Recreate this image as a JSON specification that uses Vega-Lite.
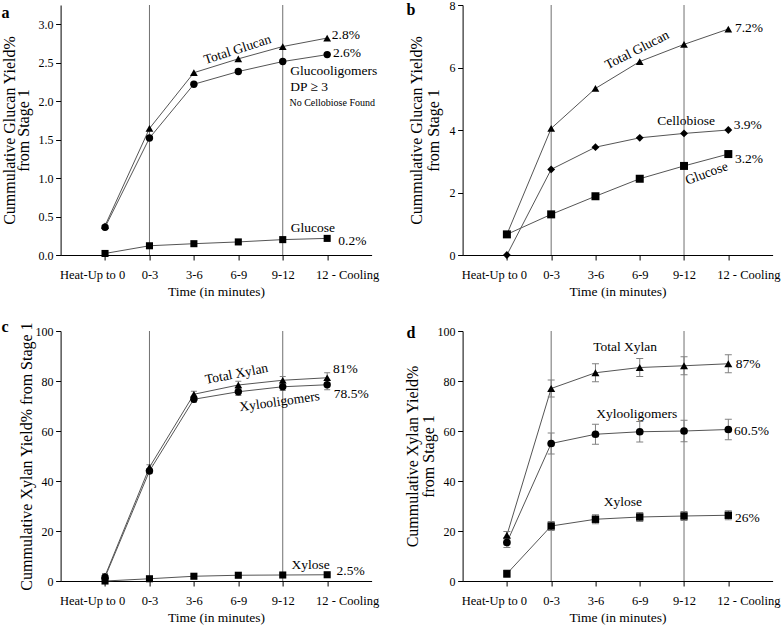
{
  "$schema": "https://vega.github.io/schema/vega-lite/v6.json",
  "autosize": {"type": "none"},
  "padding": {"left": 60.6, "top": 5, "right": 723.4, "bottom": 620},
  "bounds": "flush",
  "columns": 2,
  "spacing": {"row": 76, "column": 91},
  "datasets": {
    "vl": [{"t": 1}, {"t": 4}],
    "a": [
      {"t": 0, "s": "Total Glucan", "v": 0.38}, {"t": 1, "s": "Total Glucan", "v": 1.645}, {"t": 2, "s": "Total Glucan", "v": 2.37}, {"t": 3, "s": "Total Glucan", "v": 2.55}, {"t": 4, "s": "Total Glucan", "v": 2.71}, {"t": 5, "s": "Total Glucan", "v": 2.82},
      {"t": 0, "s": "Glucooligomers", "v": 0.36}, {"t": 1, "s": "Glucooligomers", "v": 1.52}, {"t": 2, "s": "Glucooligomers", "v": 2.22}, {"t": 3, "s": "Glucooligomers", "v": 2.385}, {"t": 4, "s": "Glucooligomers", "v": 2.515}, {"t": 5, "s": "Glucooligomers", "v": 2.605},
      {"t": 0, "s": "Glucose", "v": 0.02}, {"t": 1, "s": "Glucose", "v": 0.12}, {"t": 2, "s": "Glucose", "v": 0.147}, {"t": 3, "s": "Glucose", "v": 0.17}, {"t": 4, "s": "Glucose", "v": 0.2}, {"t": 5, "s": "Glucose", "v": 0.216}
    ],
    "b": [
      {"t": 0, "s": "Total Glucan", "v": 0.66}, {"t": 1, "s": "Total Glucan", "v": 4.05}, {"t": 2, "s": "Total Glucan", "v": 5.33}, {"t": 3, "s": "Total Glucan", "v": 6.19}, {"t": 4, "s": "Total Glucan", "v": 6.74}, {"t": 5, "s": "Total Glucan", "v": 7.23},
      {"t": 0, "s": "Cellobiose", "v": 0.0}, {"t": 1, "s": "Cellobiose", "v": 2.74}, {"t": 2, "s": "Cellobiose", "v": 3.45}, {"t": 3, "s": "Cellobiose", "v": 3.75}, {"t": 4, "s": "Cellobiose", "v": 3.89}, {"t": 5, "s": "Cellobiose", "v": 4.0},
      {"t": 0, "s": "Glucose", "v": 0.66}, {"t": 1, "s": "Glucose", "v": 1.3}, {"t": 2, "s": "Glucose", "v": 1.88}, {"t": 3, "s": "Glucose", "v": 2.44}, {"t": 4, "s": "Glucose", "v": 2.85}, {"t": 5, "s": "Glucose", "v": 3.23}
    ],
    "c": [
      {"t": 0, "s": "Total Xylan", "v": 2.0, "lo": 1.0, "hi": 3.0}, {"t": 1, "s": "Total Xylan", "v": 45.5, "lo": 44.5, "hi": 46.5}, {"t": 2, "s": "Total Xylan", "v": 74.7, "lo": 73.5, "hi": 75.9}, {"t": 3, "s": "Total Xylan", "v": 78.4, "lo": 76.9, "hi": 79.9}, {"t": 4, "s": "Total Xylan", "v": 80.3, "lo": 78.8, "hi": 81.8}, {"t": 5, "s": "Total Xylan", "v": 81.3, "lo": 79.3, "hi": 83.3},
      {"t": 0, "s": "Xylooligomers", "v": 1.5, "lo": 0.5, "hi": 2.5}, {"t": 1, "s": "Xylooligomers", "v": 44.0, "lo": 43.0, "hi": 45.0}, {"t": 2, "s": "Xylooligomers", "v": 72.7, "lo": 71.5, "hi": 73.9}, {"t": 3, "s": "Xylooligomers", "v": 75.7, "lo": 74.2, "hi": 77.2}, {"t": 4, "s": "Xylooligomers", "v": 77.7, "lo": 76.2, "hi": 79.2}, {"t": 5, "s": "Xylooligomers", "v": 78.5, "lo": 76.5, "hi": 80.5},
      {"t": 0, "s": "Xylose", "v": 0.0, "lo": 0.0, "hi": 0.4}, {"t": 1, "s": "Xylose", "v": 0.9, "lo": 0.5, "hi": 1.3}, {"t": 2, "s": "Xylose", "v": 1.9, "lo": 1.4, "hi": 2.4}, {"t": 3, "s": "Xylose", "v": 2.3, "lo": 1.8, "hi": 2.8}, {"t": 4, "s": "Xylose", "v": 2.4, "lo": 1.9, "hi": 2.9}, {"t": 5, "s": "Xylose", "v": 2.5, "lo": 2.0, "hi": 3.0}
    ],
    "d": [
      {"t": 0, "s": "Total Xylan", "v": 18.3, "lo": 16.8, "hi": 19.8}, {"t": 1, "s": "Total Xylan", "v": 77.0, "lo": 73.6, "hi": 80.4}, {"t": 2, "s": "Total Xylan", "v": 83.3, "lo": 79.7, "hi": 86.9}, {"t": 3, "s": "Total Xylan", "v": 85.4, "lo": 81.8, "hi": 89.0}, {"t": 4, "s": "Total Xylan", "v": 86.1, "lo": 82.5, "hi": 89.7}, {"t": 5, "s": "Total Xylan", "v": 86.9, "lo": 83.3, "hi": 90.5},
      {"t": 0, "s": "Xylooligomers", "v": 15.4, "lo": 13.4, "hi": 17.4}, {"t": 1, "s": "Xylooligomers", "v": 55.0, "lo": 50.8, "hi": 59.2}, {"t": 2, "s": "Xylooligomers", "v": 58.7, "lo": 54.7, "hi": 62.7}, {"t": 3, "s": "Xylooligomers", "v": 59.7, "lo": 55.6, "hi": 63.8}, {"t": 4, "s": "Xylooligomers", "v": 60.0, "lo": 55.7, "hi": 64.3}, {"t": 5, "s": "Xylooligomers", "v": 60.6, "lo": 56.5, "hi": 64.7},
      {"t": 0, "s": "Xylose", "v": 2.9, "lo": 1.4, "hi": 4.4}, {"t": 1, "s": "Xylose", "v": 22.0, "lo": 20.2, "hi": 23.8}, {"t": 2, "s": "Xylose", "v": 24.7, "lo": 22.9, "hi": 26.5}, {"t": 3, "s": "Xylose", "v": 25.6, "lo": 23.8, "hi": 27.4}, {"t": 4, "s": "Xylose", "v": 26.0, "lo": 24.2, "hi": 27.8}, {"t": 5, "s": "Xylose", "v": 26.3, "lo": 24.5, "hi": 28.1}
    ],
    "a_left": [
      {"t": 5.105, "v": 2.866, "label": "2.8%"}, {"t": 5.13, "v": 2.62, "label": "2.6%"}, {"t": 4.17, "v": 2.39, "label": "Glucooligomers"}, {"t": 4.17, "v": 2.18, "label": "DP ≥ 3"}, {"t": 5.25, "v": 0.18, "label": "0.2%"}
    ],
    "a_center": [{"t": 4.68, "v": 0.35, "label": "Glucose"}],
    "a_small": [{"t": 4.15, "v": 1.97, "label": "No Cellobiose Found"}],
    "a_rot": [{"t": 2.98, "v": 2.67, "label": "Total Glucan"}],
    "b_left": [{"t": 5.15, "v": 7.26, "label": "7.2%"}, {"t": 5.12, "v": 4.16, "label": "3.9%"}, {"t": 5.15, "v": 3.07, "label": "3.2%"}],
    "b_center": [{"t": 4.05, "v": 4.3, "label": "Cellobiose"}],
    "b_rot1": [{"t": 2.94, "v": 6.56, "label": "Total Glucan"}],
    "b_rot2": [{"t": 4.51, "v": 2.61, "label": "Glucose"}],
    "c_left": [{"t": 5.13, "v": 84.7, "label": "81%"}, {"t": 5.15, "v": 74.7, "label": "78.5%"}, {"t": 5.21, "v": 4.1, "label": "2.5%"}],
    "c_center": [{"t": 4.63, "v": 6.4, "label": "Xylose"}],
    "c_rot1": [{"t": 2.96, "v": 82.8, "label": "Total Xylan"}],
    "c_rot2": [{"t": 3.93, "v": 71.7, "label": "Xylooligomers"}],
    "d_left": [{"t": 5.17, "v": 86.7, "label": "87%"}, {"t": 5.13, "v": 59.9, "label": "60.5%"}, {"t": 5.15, "v": 25.2, "label": "26%"}],
    "d_center": [{"t": 2.67, "v": 93.6, "label": "Total Xylan"}, {"t": 2.93, "v": 66.9, "label": "Xylooligomers"}, {"t": 2.62, "v": 31.6, "label": "Xylose"}]
  },
  "concat": [
    {
      "width": 311, "height": 250,
      "title": {"text": "a", "anchor": "start", "frame": "group", "fontSize": 16, "fontWeight": "bold", "font": "Liberation Serif", "baseline": "alphabetic", "offset": -3, "dx": -59, "dy": 26, "color": "#000"},
      "layer": [
        {"data": {"name": "vl"}, "mark": {"type": "rule", "color": "#707070", "strokeWidth": 1},
         "encoding": {"x": {"field": "t", "type": "quantitative", "scale": {"domain": [-1, 6], "nice": false, "zero": false},
           "axis": {"values": [0, 1, 2, 3, 4, 5], "labelExpr": "['Heat-Up to 0','0-3','3-6','6-9','9-12','12 - Cooling'][datum.value]", "title": "Time (in minutes)", "titleFontSize": 13.5, "tickSize": 5, "labelPadding": 8, "titlePadding": 4, "labelOverlap": false, "labelFlush": false, "labelBound": false, "labelOffset": {"condition": [{"test": "datum.value == 0", "value": -13}, {"test": "datum.value == 5", "value": 20}], "value": 0}}}}},
        {"data": {"name": "a"}, "mark": {"type": "line", "color": "#555555", "strokeWidth": 1},
         "encoding": {"x": {"field": "t", "type": "quantitative"},
           "y": {"field": "v", "type": "quantitative", "scale": {"domain": [0, 3.25], "nice": false, "zero": false},
             "axis": {"title": ["Cummulative Glucan Yield%", "from Stage 1"], "titleFontSize": 16, "titleLineHeight": 14, "titlePadding": 6.5,
               "values": [0, 0.25, 0.5, 0.75, 1, 1.25, 1.5, 1.75, 2, 2.25, 2.5, 2.75, 3, 3.25],
               "labelExpr": "abs(datum.value*2 - round(datum.value*2)) < 0.001 ? format(datum.value, '.1f') : ''",
               "tickSize": {"condition": {"test": "abs(datum.value*2 - round(datum.value*2)) < 0.001", "value": 5}, "value": 3},
               "labelPadding": 2.5, "labelOverlap": false, "labelFlush": false}},
           "detail": {"field": "s"}}},
        {"data": {"name": "a"}, "mark": {"type": "point", "filled": true, "color": "#000", "opacity": 1},
         "encoding": {"x": {"field": "t", "type": "quantitative"}, "y": {"field": "v", "type": "quantitative"},
           "shape": {"field": "s", "type": "nominal", "legend": null, "scale": {"domain": ["Total Glucan", "Glucooligomers", "Glucose"], "range": ["triangle-up", "circle", "square"]}},
           "size": {"field": "s", "type": "ordinal", "legend": null, "scale": {"domain": ["Total Glucan", "Glucooligomers", "Glucose"], "range": [60, 50, 42]}}}},
        {"data": {"name": "a_left"}, "mark": {"type": "text", "align": "left", "fontSize": 13.5, "color": "#000", "font": "Liberation Serif"},
         "encoding": {"x": {"field": "t", "type": "quantitative"}, "y": {"field": "v", "type": "quantitative"}, "text": {"field": "label"}}},
        {"data": {"name": "a_small"}, "mark": {"type": "text", "align": "left", "fontSize": 10, "color": "#000", "font": "Liberation Serif"},
         "encoding": {"x": {"field": "t", "type": "quantitative"}, "y": {"field": "v", "type": "quantitative"}, "text": {"field": "label"}}},
        {"data": {"name": "a_center"}, "mark": {"type": "text", "align": "center", "fontSize": 13.5, "color": "#000", "font": "Liberation Serif"},
         "encoding": {"x": {"field": "t", "type": "quantitative"}, "y": {"field": "v", "type": "quantitative"}, "text": {"field": "label"}}},
        {"data": {"name": "a_rot"}, "mark": {"type": "text", "align": "center", "angle": -18, "fontSize": 13.5, "color": "#000", "font": "Liberation Serif"},
         "encoding": {"x": {"field": "t", "type": "quantitative"}, "y": {"field": "v", "type": "quantitative"}, "text": {"field": "label"}}}
      ]
    },
    {
      "width": 310, "height": 250,
      "title": {"text": "b", "anchor": "start", "frame": "group", "fontSize": 16, "fontWeight": "bold", "font": "Liberation Serif", "baseline": "alphabetic", "offset": -3, "dx": -56, "dy": 29, "color": "#000"},
      "layer": [
        {"data": {"name": "vl"}, "mark": {"type": "rule", "color": "#707070", "strokeWidth": 1},
         "encoding": {"x": {"field": "t", "type": "quantitative", "scale": {"domain": [-1, 6], "nice": false, "zero": false},
           "axis": {"values": [0, 1, 2, 3, 4, 5], "labelExpr": "['Heat-Up to 0','0-3','3-6','6-9','9-12','12 - Cooling'][datum.value]", "title": "Time (in minutes)", "titleFontSize": 13.5, "tickSize": 5, "labelPadding": 8, "titlePadding": 4, "labelOverlap": false, "labelFlush": false, "labelBound": false, "labelOffset": {"condition": [{"test": "datum.value == 0", "value": -13}, {"test": "datum.value == 5", "value": 20}], "value": 0}}}}},
        {"data": {"name": "b"}, "mark": {"type": "line", "color": "#555555", "strokeWidth": 1},
         "encoding": {"x": {"field": "t", "type": "quantitative"},
           "y": {"field": "v", "type": "quantitative", "scale": {"domain": [0, 8], "nice": false, "zero": false},
             "axis": {"title": ["Cummulative Glucan Yield%", "from Stage 1"], "titleFontSize": 16, "titleLineHeight": 17, "titlePadding": 8,
               "values": [0, 0.5, 1, 1.5, 2, 2.5, 3, 3.5, 4, 4.5, 5, 5.5, 6, 6.5, 7, 7.5, 8],
               "labelExpr": "abs(datum.value - round(datum.value)) < 0.001 ? format(datum.value, 'd') : ''",
               "tickSize": {"condition": {"test": "abs(datum.value - round(datum.value)) < 0.001", "value": 5}, "value": 3},
               "labelPadding": 2.5, "labelOverlap": false, "labelFlush": false}},
           "detail": {"field": "s"}}},
        {"data": {"name": "b"}, "mark": {"type": "point", "filled": true, "color": "#000", "opacity": 1},
         "encoding": {"x": {"field": "t", "type": "quantitative"}, "y": {"field": "v", "type": "quantitative"},
           "shape": {"field": "s", "type": "nominal", "legend": null, "scale": {"domain": ["Total Glucan", "Cellobiose", "Glucose"], "range": ["triangle-up", "diamond", "square"]}},
           "size": {"field": "s", "type": "ordinal", "legend": null, "scale": {"domain": ["Total Glucan", "Cellobiose", "Glucose"], "range": [60, 64, 42]}}}},
        {"data": {"name": "b_left"}, "mark": {"type": "text", "align": "left", "fontSize": 13.5, "color": "#000", "font": "Liberation Serif"},
         "encoding": {"x": {"field": "t", "type": "quantitative"}, "y": {"field": "v", "type": "quantitative"}, "text": {"field": "label"}}},
        {"data": {"name": "b_center"}, "mark": {"type": "text", "align": "center", "fontSize": 13.5, "color": "#000", "font": "Liberation Serif"},
         "encoding": {"x": {"field": "t", "type": "quantitative"}, "y": {"field": "v", "type": "quantitative"}, "text": {"field": "label"}}},
        {"data": {"name": "b_rot1"}, "mark": {"type": "text", "align": "center", "angle": -27, "fontSize": 13.5, "color": "#000", "font": "Liberation Serif"},
         "encoding": {"x": {"field": "t", "type": "quantitative"}, "y": {"field": "v", "type": "quantitative"}, "text": {"field": "label"}}},
        {"data": {"name": "b_rot2"}, "mark": {"type": "text", "align": "center", "angle": -20, "fontSize": 13.5, "color": "#000", "font": "Liberation Serif"},
         "encoding": {"x": {"field": "t", "type": "quantitative"}, "y": {"field": "v", "type": "quantitative"}, "text": {"field": "label"}}}
      ]
    },
    {
      "width": 311, "height": 250,
      "title": {"text": "c", "anchor": "start", "frame": "group", "fontSize": 16, "fontWeight": "bold", "font": "Liberation Serif", "baseline": "alphabetic", "offset": 0, "dx": -59, "dy": 26, "color": "#000"},
      "layer": [
        {"data": {"name": "vl"}, "mark": {"type": "rule", "color": "#707070", "strokeWidth": 1},
         "encoding": {"x": {"field": "t", "type": "quantitative", "scale": {"domain": [-1, 6], "nice": false, "zero": false},
           "axis": {"values": [0, 1, 2, 3, 4, 5], "labelExpr": "['Heat-Up to 0','0-3','3-6','6-9','9-12','12 - Cooling'][datum.value]", "title": "Time (in minutes)", "titleFontSize": 13.5, "tickSize": 5, "labelPadding": 8, "titlePadding": 4, "labelOverlap": false, "labelFlush": false, "labelBound": false, "labelOffset": {"condition": [{"test": "datum.value == 0", "value": -13}, {"test": "datum.value == 5", "value": 20}], "value": 0}}}}},
        {"data": {"name": "c"}, "mark": {"type": "line", "color": "#555555", "strokeWidth": 1},
         "encoding": {"x": {"field": "t", "type": "quantitative"},
           "y": {"field": "v", "type": "quantitative", "scale": {"domain": [0, 100], "nice": false, "zero": false},
             "axis": {"title": "Cummulative Xylan Yield% from Stage 1", "titleFontSize": 16, "titlePadding": 1,
               "values": [0, 10, 20, 30, 40, 50, 60, 70, 80, 90, 100],
               "labelExpr": "datum.value % 20 == 0 ? format(datum.value, 'd') : ''",
               "tickSize": {"condition": {"test": "datum.value % 20 == 0", "value": 5}, "value": 3},
               "labelPadding": 2.5, "labelOverlap": false, "labelFlush": false}},
           "detail": {"field": "s"}}},
        {"data": {"name": "c"}, "mark": {"type": "rule", "color": "#808080", "strokeWidth": 1},
         "encoding": {"x": {"field": "t", "type": "quantitative"}, "y": {"field": "lo", "type": "quantitative"}, "y2": {"field": "hi"}}},
        {"data": {"name": "c"}, "mark": {"type": "tick", "orient": "horizontal", "size": 6, "thickness": 1, "color": "#808080", "opacity": 1},
         "encoding": {"x": {"field": "t", "type": "quantitative"}, "y": {"field": "lo", "type": "quantitative"}}},
        {"data": {"name": "c"}, "mark": {"type": "tick", "orient": "horizontal", "size": 6, "thickness": 1, "color": "#808080", "opacity": 1},
         "encoding": {"x": {"field": "t", "type": "quantitative"}, "y": {"field": "hi", "type": "quantitative"}}},
        {"data": {"name": "c"}, "mark": {"type": "point", "filled": true, "color": "#000", "opacity": 1},
         "encoding": {"x": {"field": "t", "type": "quantitative"}, "y": {"field": "v", "type": "quantitative"},
           "shape": {"field": "s", "type": "nominal", "legend": null, "scale": {"domain": ["Total Xylan", "Xylooligomers", "Xylose"], "range": ["triangle-up", "circle", "square"]}},
           "size": {"field": "s", "type": "ordinal", "legend": null, "scale": {"domain": ["Total Xylan", "Xylooligomers", "Xylose"], "range": [60, 50, 42]}}}},
        {"data": {"name": "c_left"}, "mark": {"type": "text", "align": "left", "fontSize": 13.5, "color": "#000", "font": "Liberation Serif"},
         "encoding": {"x": {"field": "t", "type": "quantitative"}, "y": {"field": "v", "type": "quantitative"}, "text": {"field": "label"}}},
        {"data": {"name": "c_center"}, "mark": {"type": "text", "align": "center", "fontSize": 13.5, "color": "#000", "font": "Liberation Serif"},
         "encoding": {"x": {"field": "t", "type": "quantitative"}, "y": {"field": "v", "type": "quantitative"}, "text": {"field": "label"}}},
        {"data": {"name": "c_rot1"}, "mark": {"type": "text", "align": "center", "angle": -11, "fontSize": 13.5, "color": "#000", "font": "Liberation Serif"},
         "encoding": {"x": {"field": "t", "type": "quantitative"}, "y": {"field": "v", "type": "quantitative"}, "text": {"field": "label"}}},
        {"data": {"name": "c_rot2"}, "mark": {"type": "text", "align": "center", "angle": -8, "fontSize": 13.5, "color": "#000", "font": "Liberation Serif"},
         "encoding": {"x": {"field": "t", "type": "quantitative"}, "y": {"field": "v", "type": "quantitative"}, "text": {"field": "label"}}}
      ]
    },
    {
      "width": 310, "height": 250,
      "title": {"text": "d", "anchor": "start", "frame": "group", "fontSize": 16, "fontWeight": "bold", "font": "Liberation Serif", "baseline": "alphabetic", "offset": 0, "dx": -56, "dy": 29, "color": "#000"},
      "layer": [
        {"data": {"name": "vl"}, "mark": {"type": "rule", "color": "#707070", "strokeWidth": 1},
         "encoding": {"x": {"field": "t", "type": "quantitative", "scale": {"domain": [-1, 6], "nice": false, "zero": false},
           "axis": {"values": [0, 1, 2, 3, 4, 5], "labelExpr": "['Heat-Up to 0','0-3','3-6','6-9','9-12','12 - Cooling'][datum.value]", "title": "Time (in minutes)", "titleFontSize": 13.5, "tickSize": 5, "labelPadding": 8, "titlePadding": 4, "labelOverlap": false, "labelFlush": false, "labelBound": false, "labelOffset": {"condition": [{"test": "datum.value == 0", "value": -13}, {"test": "datum.value == 5", "value": 20}], "value": 0}}}}},
        {"data": {"name": "d"}, "mark": {"type": "line", "color": "#555555", "strokeWidth": 1},
         "encoding": {"x": {"field": "t", "type": "quantitative"},
           "y": {"field": "v", "type": "quantitative", "scale": {"domain": [0, 100], "nice": false, "zero": false},
             "axis": {"title": ["Cummulative Xylan Yield%", "from Stage 1"], "titleFontSize": 16, "titleLineHeight": 16, "titlePadding": 1,
               "values": [0, 10, 20, 30, 40, 50, 60, 70, 80, 90, 100],
               "labelExpr": "datum.value % 20 == 0 ? format(datum.value, 'd') : ''",
               "tickSize": {"condition": {"test": "datum.value % 20 == 0", "value": 5}, "value": 3},
               "labelPadding": 2.5, "labelOverlap": false, "labelFlush": false}},
           "detail": {"field": "s"}}},
        {"data": {"name": "d"}, "mark": {"type": "rule", "color": "#808080", "strokeWidth": 1},
         "encoding": {"x": {"field": "t", "type": "quantitative"}, "y": {"field": "lo", "type": "quantitative"}, "y2": {"field": "hi"}}},
        {"data": {"name": "d"}, "mark": {"type": "tick", "orient": "horizontal", "size": 7, "thickness": 1, "color": "#808080", "opacity": 1},
         "encoding": {"x": {"field": "t", "type": "quantitative"}, "y": {"field": "lo", "type": "quantitative"}}},
        {"data": {"name": "d"}, "mark": {"type": "tick", "orient": "horizontal", "size": 7, "thickness": 1, "color": "#808080", "opacity": 1},
         "encoding": {"x": {"field": "t", "type": "quantitative"}, "y": {"field": "hi", "type": "quantitative"}}},
        {"data": {"name": "d"}, "mark": {"type": "point", "filled": true, "color": "#000", "opacity": 1},
         "encoding": {"x": {"field": "t", "type": "quantitative"}, "y": {"field": "v", "type": "quantitative"},
           "shape": {"field": "s", "type": "nominal", "legend": null, "scale": {"domain": ["Total Xylan", "Xylooligomers", "Xylose"], "range": ["triangle-up", "circle", "square"]}},
           "size": {"field": "s", "type": "ordinal", "legend": null, "scale": {"domain": ["Total Xylan", "Xylooligomers", "Xylose"], "range": [64, 55, 46]}}}},
        {"data": {"name": "d_left"}, "mark": {"type": "text", "align": "left", "fontSize": 13.5, "color": "#000", "font": "Liberation Serif"},
         "encoding": {"x": {"field": "t", "type": "quantitative"}, "y": {"field": "v", "type": "quantitative"}, "text": {"field": "label"}}},
        {"data": {"name": "d_center"}, "mark": {"type": "text", "align": "center", "fontSize": 13.5, "color": "#000", "font": "Liberation Serif"},
         "encoding": {"x": {"field": "t", "type": "quantitative"}, "y": {"field": "v", "type": "quantitative"}, "text": {"field": "label"}}}
      ]
    }
  ],
  "resolve": {"scale": {"shape": "independent", "size": "independent"}},
  "config": {
    "font": "Liberation Serif",
    "background": "#ffffff",
    "view": {"stroke": null},
    "axis": {"domainColor": "#000000", "tickColor": "#000000", "labelColor": "#000000", "titleColor": "#000000", "labelFontSize": 12.5, "titleFontWeight": "normal", "grid": false, "labelFont": "Liberation Serif", "titleFont": "Liberation Serif", "domainWidth": 1, "tickWidth": 1},
    "axisY": {"labelFontSize": 12}
  }
}
